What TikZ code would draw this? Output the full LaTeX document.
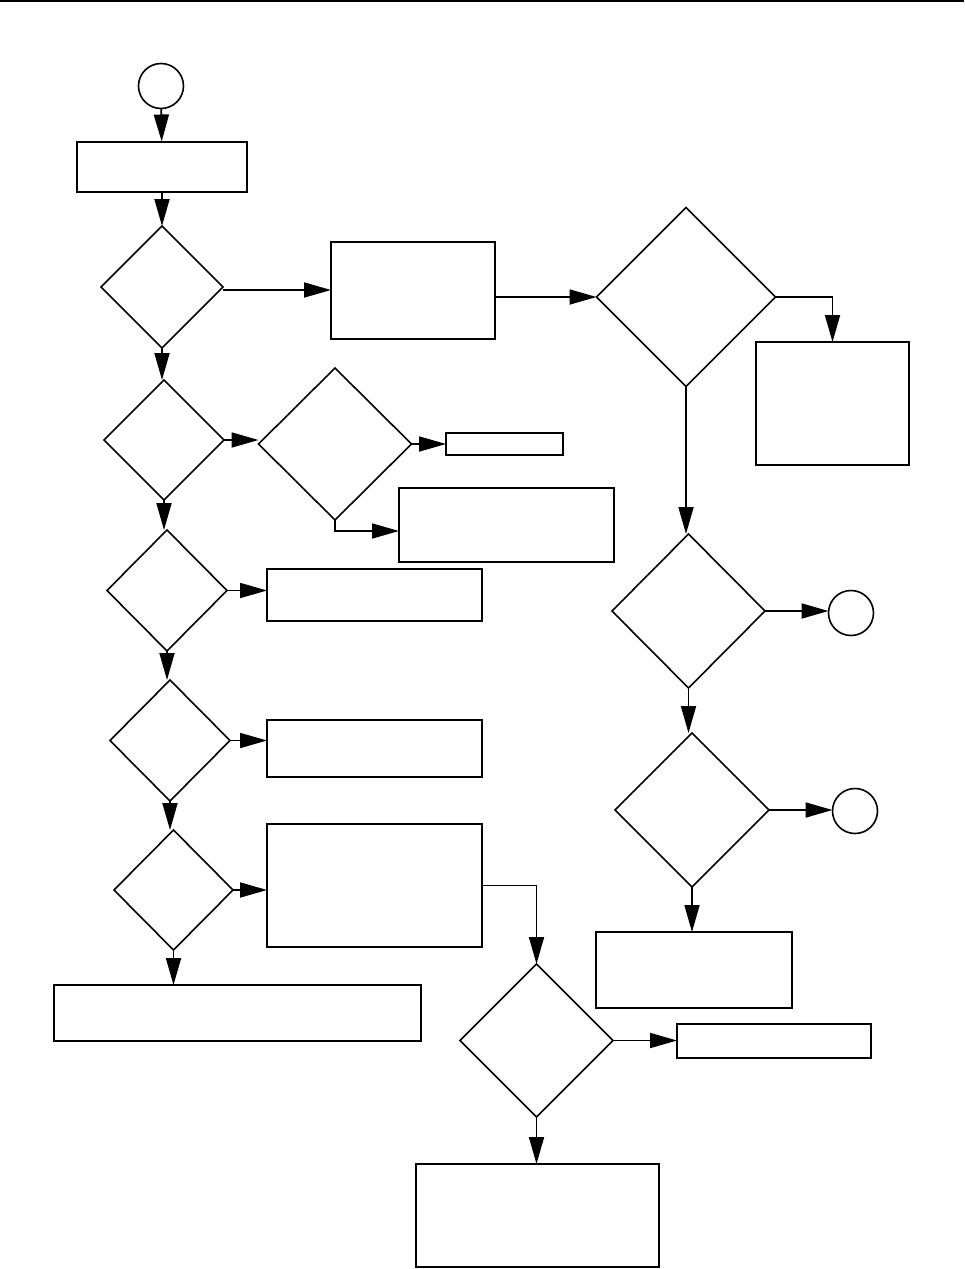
\documentclass[tikz,border=0pt]{standalone}
\usetikzlibrary{shapes.geometric,arrows.meta,calc}
\begin{document}
\begin{tikzpicture}[x=1pt,y=-1pt,
  box/.style={draw,rectangle,line width=2pt,inner sep=0pt,outer sep=0pt},
  dia/.style={draw,diamond,line width=1.6pt,inner sep=0pt,outer sep=0pt},
  circ/.style={draw,circle,line width=1.6pt,inner sep=0pt,outer sep=0pt,minimum size=45pt},
  arr/.style={line width=1.8pt,-{Triangle[length=27pt,width=15pt]}}]
\useasboundingbox (0,0) rectangle (964,1269);
\fill[white] (0,0) rectangle (964,1269);
\draw[line width=2.5pt] (0,1.2) -- (964,1.2);
% left column
\node[circ] (s) at (161,86) {};
\node[box,minimum width=170pt,minimum height=50pt] (b1) at (162,166.5) {};
\node[dia,minimum width=122pt,minimum height=122pt] (d1) at (162,287) {};
\node[box,minimum width=164pt,minimum height=97pt] (b2) at (413,290.5) {};
\node[dia,minimum width=120pt,minimum height=120pt] (d2) at (164,440) {};
\node[dia,minimum width=153pt,minimum height=152pt] (d2b) at (335,444) {};
\node[box,minimum width=117pt,minimum height=22pt] (b5) at (504.5,444) {};
\node[box,minimum width=215pt,minimum height=74pt] (b6) at (506.5,525) {};
\node[dia,minimum width=120pt,minimum height=121pt] (d3) at (167,590.5) {};
\node[box,minimum width=215pt,minimum height=52pt] (b7) at (374.5,595) {};
\node[dia,minimum width=120pt,minimum height=121pt] (d4) at (170,740.5) {};
\node[box,minimum width=215pt,minimum height=57pt] (b8) at (374.5,748.5) {};
\node[dia,minimum width=119pt,minimum height=120pt] (d5) at (173.5,890) {};
\node[box,minimum width=215pt,minimum height=123pt] (b9) at (374.5,885.5) {};
\node[box,minimum width=367pt,minimum height=56pt] (b10) at (237.5,1013) {};
\node[dia,minimum width=153pt,minimum height=153pt] (d6) at (536.5,1040.5) {};
\node[box,minimum width=194pt,minimum height=34pt] (b11) at (774,1041) {};
\node[box,minimum width=243pt,minimum height=103pt] (b12) at (537.5,1215.5) {};
% right column
\node[dia,minimum width=179pt,minimum height=179pt] (r1) at (686,297) {};
\node[box,minimum width=153pt,minimum height=123pt] (b3) at (832.5,403.5) {};
\node[dia,minimum width=153pt,minimum height=154pt] (r2) at (688.5,611) {};
\node[circ] (c2) at (851,613) {};
\node[dia,minimum width=154pt,minimum height=154pt] (r3) at (692,810) {};
\node[circ] (c3) at (855,811) {};
\node[box,minimum width=196pt,minimum height=76pt] (b4) at (694,970) {};
% helper coordinates
\coordinate (d1e) at ($(d1.east)+(0,3)$);
\coordinate (b6w) at ($(b6.west)+(0,6)$);
% connectors
\draw[arr] (s) -- (b1);
\draw[arr] (b1) -- (b1.south |- d1.north);
\draw[arr] (d1e) -- (d1e -| b2.west);
\draw[arr] (b2.east |- r1.west) -- (r1.west);
\draw[arr] (r1.east) -| (b3.north);
\draw[arr] (r1.south) -- (r1.south |- r2.north);
\draw[arr] (r2.east) -- (r2.east -| c2.west);
\draw[arr] (r2.south) -- (r2.south |- r3.north);
\draw[arr] (r3.east) -- (r3.east -| c3.west);
\draw[arr] (r3.south) -- (r3.south |- b4.north);
\draw[arr] (d1.south) -- (d1.south |- d2.north);
\draw[arr] (d2.east) -- (d2.east -| d2b.west);
\draw[arr] (d2b.east) -- (d2b.east -| b5.west);
\draw[arr] (d2b.south) |- (b6w);
\draw[arr] (d2.south) -- (d2.south |- d3.north);
\draw[arr] (d3.east) -- (d3.east -| b7.west);
\draw[arr] (d3.south) -- (d3.south |- d4.north);
\draw[arr] (d4.east) -- (d4.east -| b8.west);
\draw[arr] (d4.south) -- (d4.south |- d5.north);
\draw[arr] (d5.east) -- (d5.east -| b9.west);
\draw[arr] (d5.south) -- (d5.south |- b10.north);
\draw[arr] (b9.east) -| (d6.north);
\draw[arr] (d6.east) -- (d6.east -| b11.west);
\draw[arr] (d6.south) -- (d6.south |- b12.north);
\end{tikzpicture}
\end{document}
